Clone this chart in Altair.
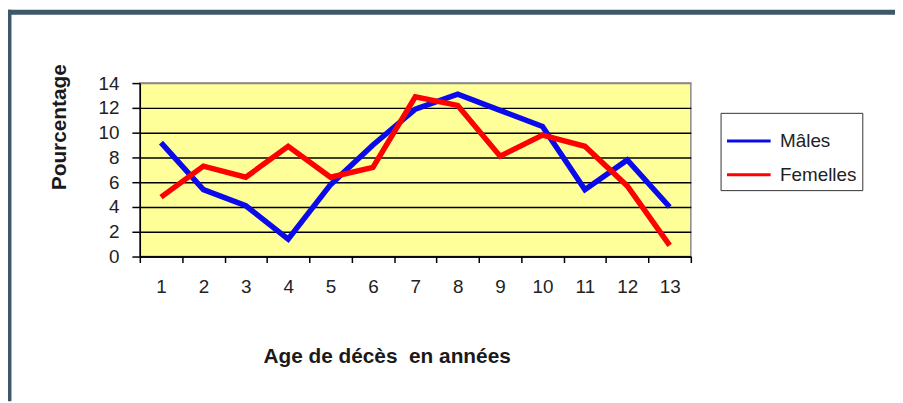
import altair as alt
import pandas as pd

# --- data ---
ages = list(range(1, 14))
males = [9.2, 5.4, 4.1, 1.4, 5.8, 9.0, 11.9, 13.1, 11.8, 10.5, 5.4, 7.8, 4.0]
females = [4.8, 7.3, 6.4, 8.9, 6.4, 7.2, 12.9, 12.2, 8.1, 9.8, 8.9, 5.7, 0.9]
series_names = ["Mâles", "Femelles"]
series_colors = ["#0A0AEA", "#FF0000"]
y_ticks = [0, 2, 4, 6, 8, 10, 12, 14]

rows = []
for name, vals in zip(series_names, [males, females]):
    for a, v in zip(ages, vals):
        rows.append({"Age": a, "Pourcentage": v, "Sexe": name})
df = pd.DataFrame(rows)

# axis positions: labels at category centres, tick marks at boundaries
x_values = sorted(set([a for a in ages] + [a - 0.5 for a in ages] + [ages[-1] + 0.5]))

FONT = "Liberation Sans"
W, H = 556, 175
PAD = {"left": 133, "top": 74, "right": 206, "bottom": 146}

lines = alt.Chart(df).mark_line(strokeWidth=5.5, strokeJoin="miter").encode(
    x=alt.X(
        "Age:Q",
        scale=alt.Scale(domain=[ages[0] - 0.5, ages[-1] + 0.5], nice=False, zero=False),
        axis=alt.Axis(
            values=x_values,
            labelExpr="datum.value % 1 === 0 ? format(datum.value, 'd') : ''",
            tickOpacity={"condition": {"test": "datum.value % 1 !== 0", "value": 1}, "value": 0},
            grid=False,
            tickSize=6,
            labelPadding=15,
            labelOverlap=False,
            labelFlush=False,
            labelFontSize=19,
            labelFont=FONT,
            labelColor="#222222",
            domainColor="#000000",
            tickColor="#000000",
            tickWidth=1.5,
            domainWidth=1.5,
            title="Age de décès\u00a0 en années",
            titleFont=FONT,
            titleFontSize=21,
            titleFontWeight="bold",
            titleColor="#1a1a1a",
            titleX=249,
            titleY=107,
            titleAlign="center",
            titleBaseline="alphabetic",
        ),
    ),
    y=alt.Y(
        "Pourcentage:Q",
        scale=alt.Scale(domain=[0, 14], nice=False),
        axis=alt.Axis(
            values=y_ticks,
            grid=True,
            gridColor={"condition": {"test": "datum.value === 14", "value": "#888888"}, "value": "#000000"},
            gridWidth=1.5,
            tickSize=8,
            tickColor="#000000",
            tickWidth=1.5,
            domainColor="#000000",
            domainWidth=1.5,
            labelPadding=13,
            labelFontSize=19,
            labelFont=FONT,
            labelColor="#222222",
            title="Pourcentage",
            titleFont=FONT,
            titleFontSize=21,
            titleFontWeight="bold",
            titleColor="#1a1a1a",
            titleX=-75,
            titleY=44,
            titleAlign="center",
            titleBaseline="alphabetic",
        ),
    ),
    color=alt.Color(
        "Sexe:N",
        sort=series_names,
        scale=alt.Scale(domain=series_names, range=series_colors),
        legend=alt.Legend(
            title=None,
            orient="none",
            legendX=586,
            legendY=30,
            strokeColor="#333333",
            fillColor="#ffffff",
            padding=5,
            symbolType="stroke",
            symbolSize=1936,
            symbolStrokeWidth=3,
            labelFont=FONT,
            labelFontSize=19,
            labelColor="#222222",
            labelOffset=8,
            rowPadding=0,
        ),
    ),
    order=alt.Order("Age:Q"),
)

# outer frame decoration (dark slate border, top and left)
frame_top = alt.Chart().mark_rule(color="#3D5868", strokeWidth=5).encode(
    x=alt.value(-PAD["left"]), x2=alt.value(W + PAD["right"]), y=alt.value(-PAD["top"] + 2.5)
)
frame_left = alt.Chart().mark_rule(color="#3D5868", strokeWidth=4).encode(
    x=alt.value(-PAD["left"] + 1.5), y=alt.value(-PAD["top"]), y2=alt.value(H + PAD["bottom"])
)

chart = alt.layer(lines, frame_top, frame_left).properties(
    width=W,
    height=H,
    padding=PAD,
    autosize=alt.AutoSizeParams(type="none"),
    background="#ffffff",
).configure_view(fill="#FFFF99", stroke="#888888", strokeWidth=1.5)

chart.save("out.html", embed_options={"renderer": "svg", "actions": False})
